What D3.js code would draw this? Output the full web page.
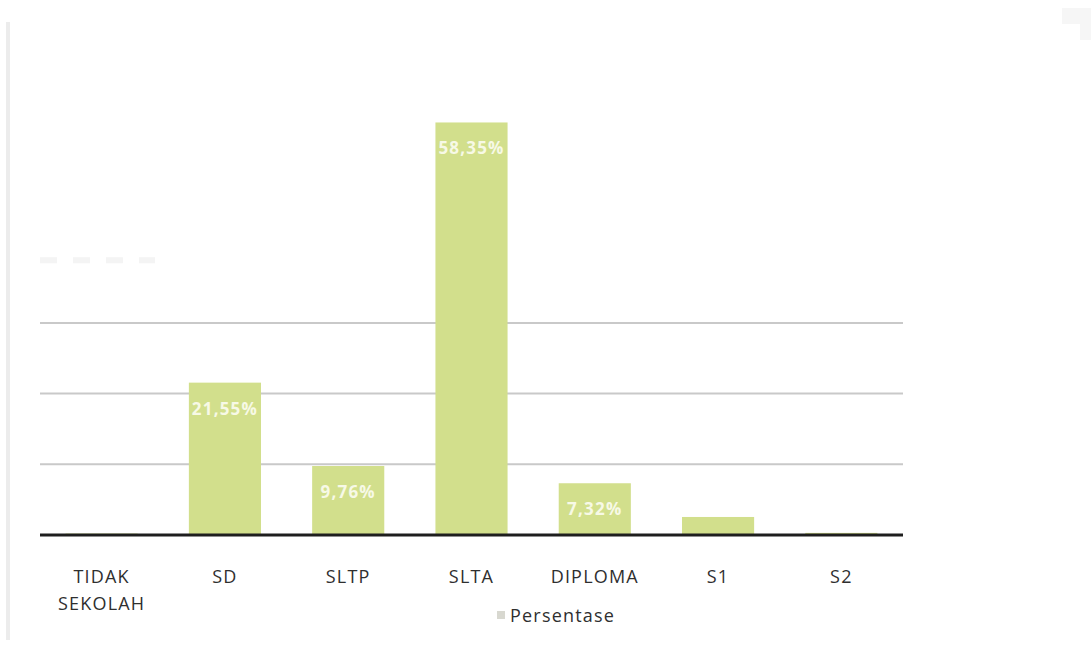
<!DOCTYPE html>
<html>
<head>
<meta charset="utf-8">
<script src="https://cdn.jsdelivr.net/npm/d3@7/dist/d3.min.js"></script>
<style>
  html, body { margin: 0; padding: 0; background: #fff; }
  svg { display: block; }
</style>
</head>
<body>
<svg id="chart" width="1091" height="645"></svg>
<script>
// Education level categories (x axis)
const categories = ["TIDAK SEKOLAH", "SD", "SLTP", "SLTA", "DIPLOMA", "S1", "S2"];
// Share of respondents per level, percent
const values = [0.2, 21.55, 9.76, 58.35, 7.32, 2.55, 0.3];
// Bar labels shown inside the bars (empty = not shown)
const valueLabels = ["", "21,55%", "9,76%", "58,35%", "7,32%", "", ""];
// Horizontal gridlines, percent
const gridTicks = [10, 20, 30];
const seriesName = "Persentase";

const svg = d3.select("#chart");
const W = 1091, H = 645;
const FONT = "'Open Sans', Lato, sans-serif";

// page frame
svg.append("rect").attr("x", 0).attr("y", 0).attr("width", W).attr("height", H).attr("fill", "#fff");
svg.append("rect").attr("x", 6).attr("y", 22).attr("width", 4).attr("height", 618).attr("fill", "#ececec");
svg.append("rect").attr("x", 1062).attr("y", 8).attr("width", 29).attr("height", 16).attr("fill", "#f6f6f6");
svg.append("rect").attr("x", 1080).attr("y", 24).attr("width", 11).attr("height", 16).attr("fill", "#f6f6f6");

const plot = { left: 40, right: 903, base: 535 };

const x = d3.scaleBand()
  .domain(categories)
  .range([plot.left, plot.right])
  .paddingInner(0.415)
  .paddingOuter(0.2075);

const y = d3.scaleLinear()
  .domain([0, 60])
  .range([plot.base, plot.base - 60 * 7.07]);

// gridlines
svg.append("g")
  .selectAll("line")
  .data(gridTicks)
  .join("line")
  .attr("x1", plot.left)
  .attr("x2", plot.right)
  .attr("y1", d => y(d))
  .attr("y2", d => y(d))
  .attr("stroke", "#c9c9c9")
  .attr("stroke-width", 2);

// faded remnant of the upper gridline on the left
svg.append("line")
  .attr("x1", plot.left).attr("x2", 155)
  .attr("y1", y(40) + 8).attr("y2", y(40) + 8)
  .attr("stroke", "#f4f4f4").attr("stroke-width", 6)
  .attr("stroke-dasharray", "17 16");

const rows = categories.map((c, i) => ({ c, v: values[i], label: valueLabels[i] }));

// bars
svg.append("g")
  .selectAll("rect")
  .data(rows)
  .join("rect")
  .attr("x", d => x(d.c))
  .attr("width", x.bandwidth())
  .attr("y", d => y(d.v))
  .attr("height", d => y(0) - y(d.v))
  .attr("fill", "#d2df8c");

// value labels inside bar tops
svg.append("g")
  .selectAll("text")
  .data(rows.filter(d => d.label))
  .join("text")
  .attr("x", d => x(d.c) + x.bandwidth() / 2)
  .attr("y", d => y(d.v) + 32)
  .attr("text-anchor", "middle")
  .attr("font-family", FONT)
  .attr("font-weight", "bold")
  .attr("font-size", 17)
  .attr("letter-spacing", 1.2)
  .attr("fill", "#f7f9e6")
  .text(d => d.label);

// baseline axis
const xAxis = d3.axisBottom(x).tickSize(0).tickPadding(0).tickFormat("");
const axisG = svg.append("g").attr("transform", `translate(0,${plot.base})`).call(xAxis);
axisG.select(".domain").attr("stroke", "#1e1e1e").attr("stroke-width", 3)
  .attr("d", `M${plot.left},0H${plot.right}`);

// category labels (wrapped onto two lines where needed)
const catG = svg.append("g");
categories.forEach(c => {
  const words = c.split(" ");
  const t = catG.append("text")
    .attr("x", x(c) + x.bandwidth() / 2)
    .attr("y", 583)
    .attr("text-anchor", "middle")
    .attr("font-family", FONT)
    .attr("font-size", 18)
    .attr("letter-spacing", 1.2)
    .attr("fill", "#2f2f2f");
  words.forEach((w, i) => {
    t.append("tspan")
      .attr("x", x(c) + x.bandwidth() / 2)
      .attr("dy", i === 0 ? 0 : 27)
      .text(w);
  });
});

// legend
const lg = svg.append("g").attr("transform", "translate(497,616)");
lg.append("rect").attr("x", 0).attr("y", -5).attr("width", 8).attr("height", 8).attr("fill", "#d8d8d0");
lg.append("text")
  .attr("x", 13).attr("y", 6)
  .attr("font-family", FONT)
  .attr("font-size", 18)
  .attr("letter-spacing", 1.2)
  .attr("fill", "#2f2f2f")
  .text(seriesName);
</script>
</body>
</html>
